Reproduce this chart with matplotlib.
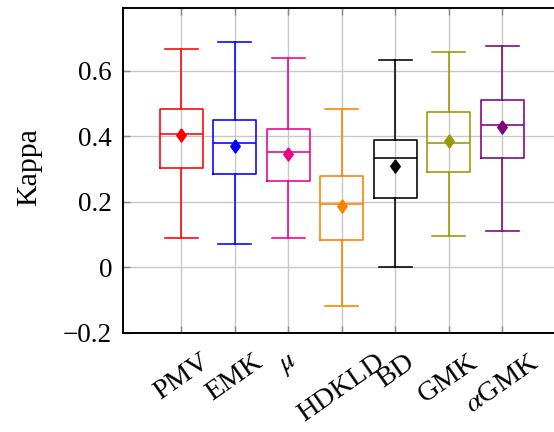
import matplotlib
matplotlib.use("Agg")
import matplotlib.pyplot as plt
import numpy as np

categories = ["PMV", "EMK", r"$\mu$", "HDKLD", "BD", "GMK", r"$\alpha$GMK"]
whisker_low = [0.090, 0.071, 0.090, -0.119, 0.000, 0.094, 0.111]
q1 = [0.303, 0.285, 0.263, 0.084, 0.211, 0.290, 0.332]
median = [0.406, 0.380, 0.351, 0.192, 0.333, 0.380, 0.435]
q3 = [0.484, 0.448, 0.421, 0.277, 0.388, 0.475, 0.511]
whisker_high = [0.666, 0.687, 0.638, 0.483, 0.631, 0.656, 0.676]
mean = [0.402, 0.370, 0.344, 0.187, 0.308, 0.384, 0.428]
colors = ["#ff0000", "#0000ff", "#ec008c", "#ff8000", "#000000", "#999900", "#800080"]
yticks = [-0.2, 0.0, 0.2, 0.4, 0.6]
ytick_labels = ["\u22120.2", "0", "0.2", "0.4", "0.6"]

plt.rcParams["font.family"] = ["Liberation Serif", "DejaVu Serif"]
plt.rcParams["mathtext.fontset"] = "stix"

W, H = 554, 432
fig = plt.figure(figsize=(W / 100, H / 100), dpi=100)
left_px, bottom_px, top_px = 123.3, 332.7, 8.3
unit = 53.5
x0, x1 = 1 - 58 / unit, 8.1
width_px = (x1 - x0) * unit
ax = fig.add_axes([left_px / W, (H - bottom_px) / H, width_px / W, (bottom_px - top_px) / H])

stats = []
for i in range(len(categories)):
    stats.append(dict(med=median[i], q1=q1[i], q3=q3[i], whislo=whisker_low[i],
                      whishi=whisker_high[i], mean=mean[i], fliers=[], label=categories[i]))

diamond = [(0, 1), (0.72, 0), (0, -1), (-0.72, 0), (0, 1)]
positions = np.arange(1, len(categories) + 1)
for i, s in enumerate(stats):
    c = colors[i]
    lw = 1.15
    ax.bxp([s], positions=[positions[i]], widths=0.8, capwidths=0.62, showmeans=True,
           showfliers=False, manage_ticks=False,
           boxprops=dict(color=c, linewidth=lw),
           whiskerprops=dict(color=c, linewidth=lw),
           capprops=dict(color=c, linewidth=lw),
           medianprops=dict(color=c, linewidth=lw),
           meanprops=dict(marker=diamond, markerfacecolor=c, markeredgecolor=c,
                          markersize=9.5, linestyle="none"))

ax.set_xlim(x0, x1)
ax.set_ylim(-0.2, 0.79)
ax.set_xticks(positions)
ax.set_xticklabels(categories, rotation=35, ha="center", va="top", fontsize=20.5)
ax.set_yticks(yticks)
ax.set_yticklabels(ytick_labels, fontsize=19.5)
fig.text(29 / W, 1 - 167 / H, "Kappa", rotation=90, ha="center", va="center", fontsize=21.5)

ax.grid(True, color="#c8c8c8", linewidth=1.0)
ax.set_axisbelow(True)
ax.tick_params(direction="in", length=5, width=1.0, color="#888888", top=True, right=True)
ax.tick_params(axis="y", pad=8)
ax.tick_params(axis="x", pad=12)
for sp in ax.spines.values():
    sp.set_linewidth(1.4)
    sp.set_color("black")

fig.savefig("out.png", dpi=100)
